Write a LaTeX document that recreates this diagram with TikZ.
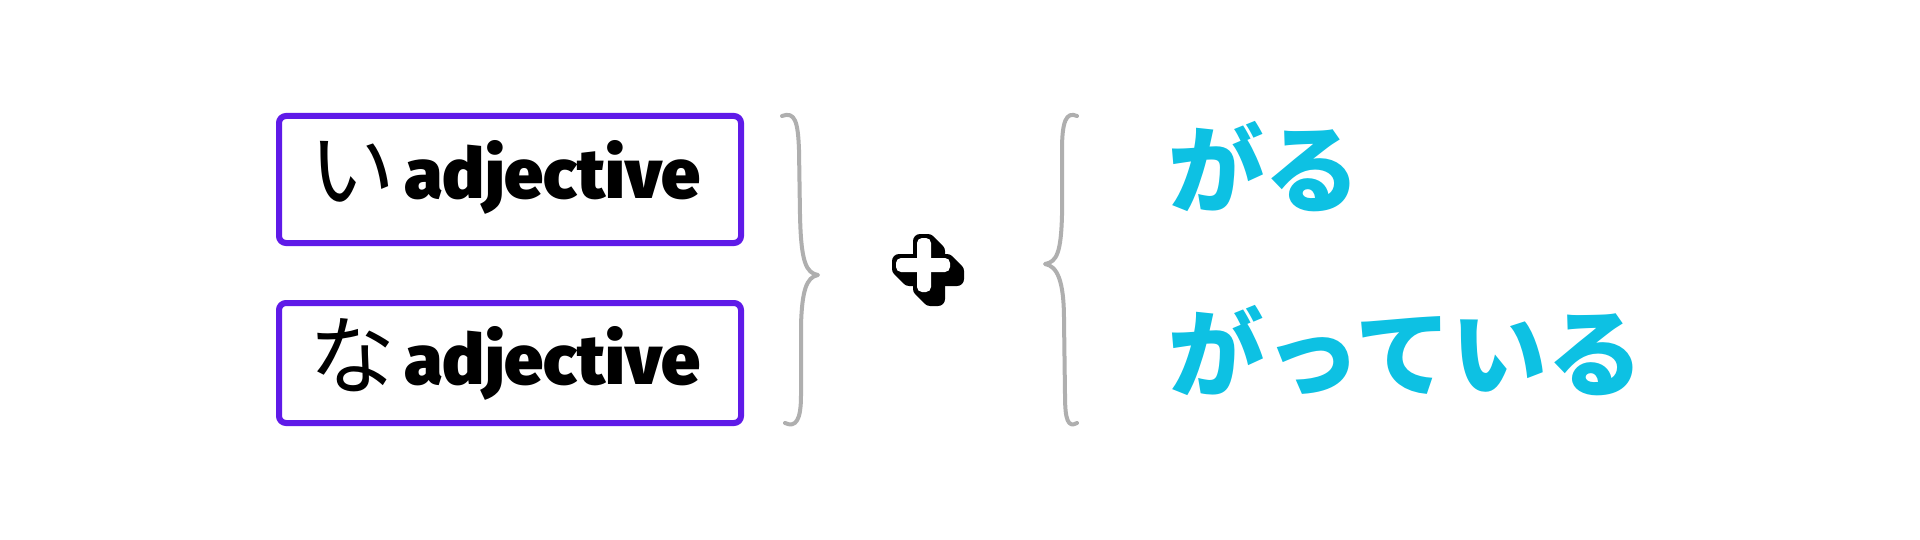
\documentclass[tikz,border=0pt]{standalone}
\usepackage{fontspec}
\newfontfamily\jpfont{Noto Sans CJK JP}
\newfontfamily\adjfont{Fira Sans Black}
\definecolor{boxpurple}{RGB}{95,26,232}
\definecolor{bracegray}{RGB}{175,175,175}
\definecolor{suffixcyan}{RGB}{13,193,227}
\tikzset{
  adjbox/.style={draw=boxpurple, line width=3pt, rounded corners=3.5pt, fill=white,
                 minimum width=231pt, inner sep=0pt},
  kana/.style={anchor=base west, inner sep=0pt, text=black,
               font=\jpfont\fontsize{43pt}{48pt}\selectfont},
  adjword/.style={anchor=base west, inner sep=0pt, text=black,
                  font=\adjfont\fontsize{35pt}{40pt}\selectfont},
  suffix/.style={anchor=base west, inner sep=0pt, text=suffixcyan,
                 font=\jpfont\bfseries\fontsize{48pt}{56pt}\selectfont},
  brace/.style={draw=bracegray, line width=2pt, line cap=round, line join=round},
}
\newcommand{\plusshape}[1]{%
  \fill[#1, rounded corners=3.5pt] (913,234) rectangle (935,296);
  \fill[#1, rounded corners=3.5pt] (892,254) rectangle (954,276);
}
\begin{document}
\begin{tikzpicture}[x=0.5pt,y=-0.5pt]
\useasboundingbox (0,0) rectangle (1920,540);
\fill[white] (0,0) rectangle (1920,540);

% boxes
\node[adjbox, minimum height=63.5pt] (b1) at (510,179.5) {};
\node[adjbox, minimum height=60pt] (b2) at (510,363) {};

\node[kana] (k1) at (309,201) {い};
\node[adjword] (a1) at (404,198) {adjective};
\node[kana] (k2) at (309,387) {な};
\node[adjword] (a2) at (404,384) {adjective};

% right brace of the left group
\draw[brace] (782,116) .. controls (795,111) and (798,122) .. (799,150)
  -- (800,215) .. controls (801,262) and (806,273) .. (818,275)
  .. controls (806,277) and (802,292) .. (801,325)
  -- (801,395) .. controls (801,420) and (796,428) .. (785,423);

% left brace of the right group
\draw[brace] (1077,116) .. controls (1066,111) and (1062,122) .. (1062,150)
  -- (1062,215) .. controls (1061,252) and (1057,262) .. (1045,264)
  .. controls (1057,266) and (1064,280) .. (1064,320)
  -- (1065,395) .. controls (1065,420) and (1068,428) .. (1077,423);

% plus sign with extrusion
\foreach \d in {0,1,...,10} {
  \begin{scope}[shift={(\d,\d)}]
    \plusshape{black}
  \end{scope}
}
\fill[white, rounded corners=2.5pt] (917,238) rectangle (931,292);
\fill[white, rounded corners=2.5pt] (896,258) rectangle (950,272);

% suffixes
\node[suffix] (s1) at (1168,205) {がる};
\node[suffix] (s2) at (1168,389) {がっている};
\end{tikzpicture}
\end{document}
